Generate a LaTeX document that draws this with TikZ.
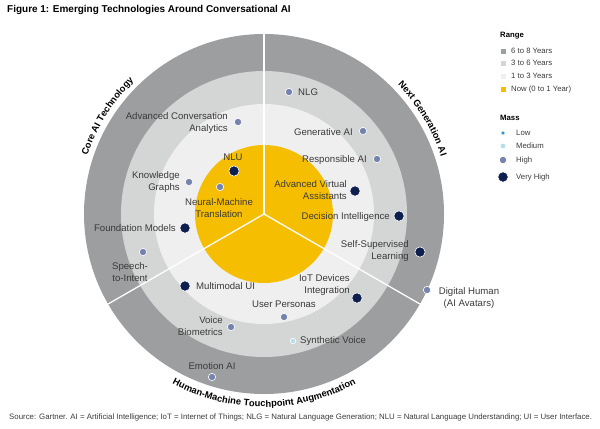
\documentclass[tikz,border=0pt]{standalone}
\usepackage{fontspec}
\setmainfont{Liberation Sans}
\usepackage{xcolor}
\usetikzlibrary{positioning,decorations.text}

\definecolor{ringA}{HTML}{9C9E9F}
\definecolor{ringB}{HTML}{D4D5D5}
\definecolor{ringC}{HTML}{EFEFEF}
\definecolor{ringNow}{HTML}{F6BE00}
\definecolor{massLow}{HTML}{2C9AD0}
\definecolor{massMed}{HTML}{B5DDF0}
\definecolor{massHigh}{HTML}{7584AE}
\definecolor{massVHigh}{HTML}{0E1E4E}
\definecolor{txtgray}{HTML}{3A3A3A}

\newcommand{\ringfont}{\bfseries\fontsize{8}{8}\selectfont}

\begin{document}
\begin{tikzpicture}[
    x=0.3mm, y=0.3mm,
    lbl/.style={
        font=\fontsize{8.2}{10.2}\selectfont,
        text=txtgray,
        inner sep=0pt
    },
    leg/.style={
        font=\fontsize{6.6}{7}\selectfont,
        text=txtgray,
        inner sep=0pt,
        anchor=west
    },
    legtitle/.style={
        font=\bfseries\fontsize{6.6}{7}\selectfont,
        inner sep=0pt,
        anchor=west
    },
    legsq/.style={
        minimum size=1.5mm,
        inner sep=0pt
    },
    dot/.style={
        circle,
        draw=white,
        line width=0.5pt,
        inner sep=0pt
    },
    vhigh/.style={dot, fill=massVHigh, minimum size=3.1mm},
    high/.style={dot, fill=massHigh, minimum size=2.2mm},
    medium/.style={dot, fill=massMed, minimum size=1.7mm},
    low/.style={dot, fill=massLow, minimum size=1.2mm},
    divider/.style={draw=white, line width=1.1pt}
]

\useasboundingbox (0,0) rectangle (600,-428);

\node[anchor=west, inner sep=0pt, font=\bfseries\fontsize{8.5}{9}\selectfont] (title) at (7,-10)
{Figure 1: Emerging Technologies Around Conversational AI};

\coordinate (ctr) at (264,-214);

\fill[ringA] (ctr) circle[radius=180];
\fill[ringB] (ctr) circle[radius=143];
\fill[ringC] (ctr) circle[radius=110];
\fill[ringNow] (ctr) circle[radius=69];

\draw[divider] (ctr) -- ([shift={(90:180)}]ctr);
\draw[divider] (ctr) -- ([shift={(210:180)}]ctr);
\draw[divider] (ctr) -- ([shift={(330:180)}]ctr);

\path[decorate, decoration={text along path, text align=center,
    text={|\ringfont|Core AI Technology}}]
    ([shift={(168:186)}]ctr) arc[start angle=168, end angle=128, radius=186];
\path[decorate, decoration={text along path, text align=center,
    text={|\ringfont|Next Generation AI}}]
    ([shift={(52:186)}]ctr) arc[start angle=52, end angle=10, radius=186];
\path[decorate, decoration={text along path, text align=center,
    text={|\ringfont|Human-Machine Touchpoint Augmentation}}]
    ([shift={(232:193)}]ctr) arc[start angle=232, end angle=308, radius=193];

\node[high] (aca) at (238,-122) {};
\node[lbl, anchor=east, align=right] (acalbl) at (228,-123)
{Advanced Conversation\\Analytics};

\node[vhigh] (nlu) at (234,-171) {};
\node[lbl] (nlulbl) at (233,-157) {NLU};

\node[high] (kg) at (189,-182) {};
\node[lbl, anchor=east, align=right] (kglbl) at (180,-182)
{Knowledge\\Graphs};

\node[high] (nmt) at (220,-187) {};
\node[lbl, align=center] (nmtlbl) at (219,-208)
{Neural-Machine\\Translation};

\node[vhigh] (fm) at (185,-228) {};
\node[lbl, anchor=east] (fmlbl) at (176,-228) {Foundation Models};

\node[high] (sti) at (143,-252) {};
\node[lbl, align=center] (stilbl) at (130,-272)
{Speech-\\to-Intent};

\node[vhigh] (mmui) at (185,-286) {};
\node[lbl, anchor=west] (mmuilbl) at (196,-286) {Multimodal UI};

\node[high] (vb) at (231,-327) {};
\node[lbl, anchor=east, align=right] (vblbl) at (223,-326)
{Voice\\Biometrics};

\node[high] (emo) at (212,-377) {};
\node[lbl] (emolbl) at (212,-366) {Emotion AI};

\node[high] (up) at (284,-317) {};
\node[lbl] (uplbl) at (284,-304) {User Personas};

\node[vhigh] (iot) at (357,-298) {};
\node[lbl, anchor=east, align=right] (iotlbl) at (350,-285)
{IoT Devices\\Integration};

\node[medium] (sv) at (293,-341) {};
\node[lbl, anchor=west] (svlbl) at (300,-341) {Synthetic Voice};

\node[high] (nlg) at (289,-92) {};
\node[lbl, anchor=west] (nlglbl) at (298,-92) {NLG};

\node[high] (gen) at (363,-131) {};
\node[lbl, anchor=east] (genlbl) at (353,-132) {Generative AI};

\node[high] (resp) at (377,-159) {};
\node[lbl, anchor=east] (resplbl) at (367,-160) {Responsible AI};

\node[vhigh] (ava) at (355,-191) {};
\node[lbl, anchor=east, align=right] (avalbl) at (347,-190)
{Advanced Virtual\\Assistants};

\node[vhigh] (di) at (399,-216) {};
\node[lbl, anchor=east] (dilbl) at (390,-217) {Decision Intelligence};

\node[vhigh] (ssl) at (420,-252) {};
\node[lbl, anchor=east, align=right] (ssllbl) at (409,-251)
{Self-Supervised\\Learning};

\node[high] (dh) at (427,-290) {};
\node[lbl, align=center] (dhlbl) at (469,-298)
{Digital Human\\(AI Avatars)};

\node[legtitle] (rangettl) at (500,-36) {Range};
\node[legsq, fill=ringA] (sq68) at (503,-51) {};
\node[leg] (sq68lbl) at (511,-51) {6 to 8 Years};
\node[legsq, fill=ringB] (sq36) at (503,-63) {};
\node[leg] (sq36lbl) at (511,-63) {3 to 6 Years};
\node[legsq, fill=ringC] (sq13) at (503,-76) {};
\node[leg] (sq13lbl) at (511,-76) {1 to 3 Years};
\node[legsq, fill=ringNow] (sqnow) at (503,-89) {};
\node[leg] (sqnowlbl) at (511,-89) {Now (0 to 1 Year)};

\node[legtitle] (massttl) at (500,-118) {Mass};
\node[low] (mlow) at (503,-133) {};
\node[leg] (mlowlbl) at (516,-133) {Low};
\node[medium] (mmed) at (503,-146) {};
\node[leg] (mmedlbl) at (516,-146) {Medium};
\node[high] (mhigh) at (503,-160) {};
\node[leg] (mhighlbl) at (516,-160) {High};
\node[vhigh] (mvhigh) at (503,-177) {};
\node[leg] (mvhighlbl) at (516,-177) {Very High};

\node[anchor=west, inner sep=0pt, text=txtgray, font=\fontsize{6.7}{7}\selectfont] (source) at (9,-417)
{Source: Gartner. AI = Artificial Intelligence; IoT = Internet of Things; NLG = Natural Language Generation; NLU = Natural Language Understanding; UI = User Interface.};

\end{tikzpicture}
\end{document}
